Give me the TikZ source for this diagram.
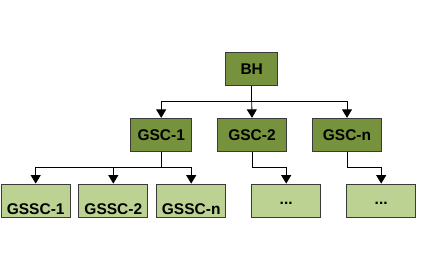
\documentclass[tikz,border=0pt]{standalone}
\usepackage{fontspec}
\setmainfont{Liberation Sans}
\usetikzlibrary{arrows.meta}
\definecolor{darkgreen}{HTML}{76923C}
\definecolor{lightgreen}{HTML}{BBD293}
\definecolor{boxborder}{HTML}{3A3A3A}
\tikzset{
  box/.style={draw=boxborder, line width=0.9pt, inner sep=0pt, font=\fontsize{15.5}{18}\selectfont\bfseries},
  topbox/.style={box, fill=darkgreen, minimum height=33pt},
  leafbox/.style={box, fill=lightgreen, minimum width=69pt, minimum height=33.3pt},
  leaftext/.style={font=\fontsize{15.5}{18}\selectfont\bfseries, inner sep=0pt},
  conn/.style={draw=black, line width=0.9pt},
  arr/.style={conn, -{Triangle[width=10pt,length=8.5pt]}}
}
\begin{document}
\begin{tikzpicture}[x=1pt,y=-1pt]
\useasboundingbox (0,0) rectangle (436,261);
% top
\node[topbox, minimum width=52pt] (bh) at (251.7,69.3) {BH};
\node[topbox, minimum width=61pt, minimum height=33.4pt] (gsc1) at (161.2,135) {GSC-1};
\node[topbox, minimum width=69.4pt, minimum height=33.4pt] (gsc2) at (252,135) {GSC-2};
\node[topbox, minimum width=69.4pt, minimum height=33.4pt] (gscn) at (347,135) {GSC-n};
% leaves
\node[leafbox, label={[leaftext,yshift=-8.3pt]center:GSSC-1}] (gssc1) at (35.7,200.7) {};
\node[leafbox, label={[leaftext,yshift=-8.3pt]center:GSSC-2}] (gssc2) at (113.3,200.7) {};
\node[leafbox, label={[leaftext,yshift=-8.3pt]center:GSSC-n}] (gsscn) at (191.2,200.7) {};
\node[leafbox, label={[leaftext,yshift=-3pt]center:...}] (dots1) at (286.2,200.7) {};
\node[leafbox, label={[leaftext,yshift=-3pt]center:...}] (dots2) at (381.2,200.7) {};
% junctions
\coordinate (j0) at (251.7,101.7);
\coordinate (j1) at (161.2,167);
\coordinate (j2) at (252,167.3);
\coordinate (j3) at (347,167.3);
% connectors
\draw[conn] (bh.south) -- (j0);
\draw[arr] (j0) -| (gsc1.north);
\draw[arr] (j0) -- (gsc2.north);
\draw[arr] (j0) -| (gscn.north);
\draw[conn] (gsc1.south) -- (j1);
\draw[arr] (j1) -| (gssc1.north);
\draw[arr] (j1) -| (gssc2.north);
\draw[arr] (j1) -| (gsscn.north);
\draw[conn] (gsc2.south) -- (j2);
\draw[arr] (j2) -| (dots1.north);
\draw[conn] (gscn.south) -- (j3);
\draw[arr] (j3) -| (dots2.north);
\end{tikzpicture}
\end{document}
